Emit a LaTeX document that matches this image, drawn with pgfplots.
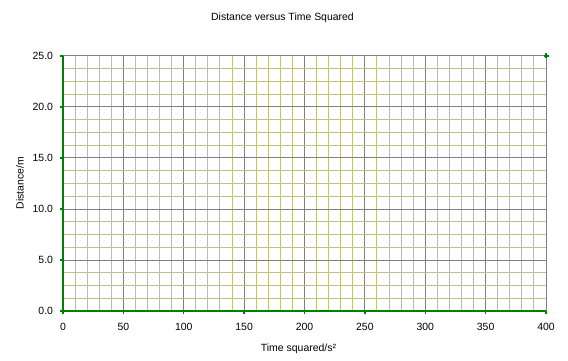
\documentclass[border=0pt]{standalone}
\usepackage{pgfplots}
\pgfplotsset{compat=1.18}
\usepackage{fontspec}
\setmainfont{Liberation Sans}
\definecolor{gridmaj}{RGB}{128,128,128}
\definecolor{gridmin}{RGB}{192,192,128}
\definecolor{axgreen}{RGB}{0,128,0}
\newcommand{\cf}{\fontsize{10.5}{12}\selectfont}
\begin{document}
\begin{tikzpicture}
\begin{axis}[
 scale only axis, width=483bp, height=255bp,
 at={(0,0)}, anchor=south west,
 xmin=0, xmax=400, ymin=0, ymax=25,
 axis x line=bottom, axis y line=left,
 axis line style={axgreen, line width=2bp, -},
 xtick={0,50,...,400}, ytick={0,5,...,25},
 minor x tick num=4, minor y tick num=3,
 grid=both,
 major grid style={gridmaj, line width=1bp},
 minor grid style={gridmin, line width=1bp},
 major tick style={axgreen, line width=1.5bp},
 minor tick style={draw=none},
 major tick length=3bp, minor tick length=0pt,
 tick align=outside,
 /pgf/number format/assume math mode=true,
 every tick label/.append style={font=\cf},
 yticklabel style={/pgf/number format/.cd, fixed, fixed zerofill, precision=1, /tikz/.cd, xshift=-3.5bp},
 xticklabel style={yshift=-5.5bp},
 xlabel={Time squared/s²},
 xlabel style={font=\cf, at={(axis description cs:0.4876,-0.149)}, anchor=center, yshift=0pt},
 ylabel={Distance/m},
 ylabel style={font=\cf, at={(axis description cs:-0.089,0.502)}, anchor=center, xshift=0pt},
 clip=false,
]
\addplot[only marks, mark=+, axgreen, mark size=2.5bp, line width=1.5bp] coordinates {(0,0) (400,25)};
\end{axis}
\node[font=\cf, anchor=center] at (219.5bp,293.5bp) {Distance versus Time Squared};
\path[use as bounding box] (-63bp,-50bp) rectangle (505bp,311bp);
\end{tikzpicture}
\end{document}
